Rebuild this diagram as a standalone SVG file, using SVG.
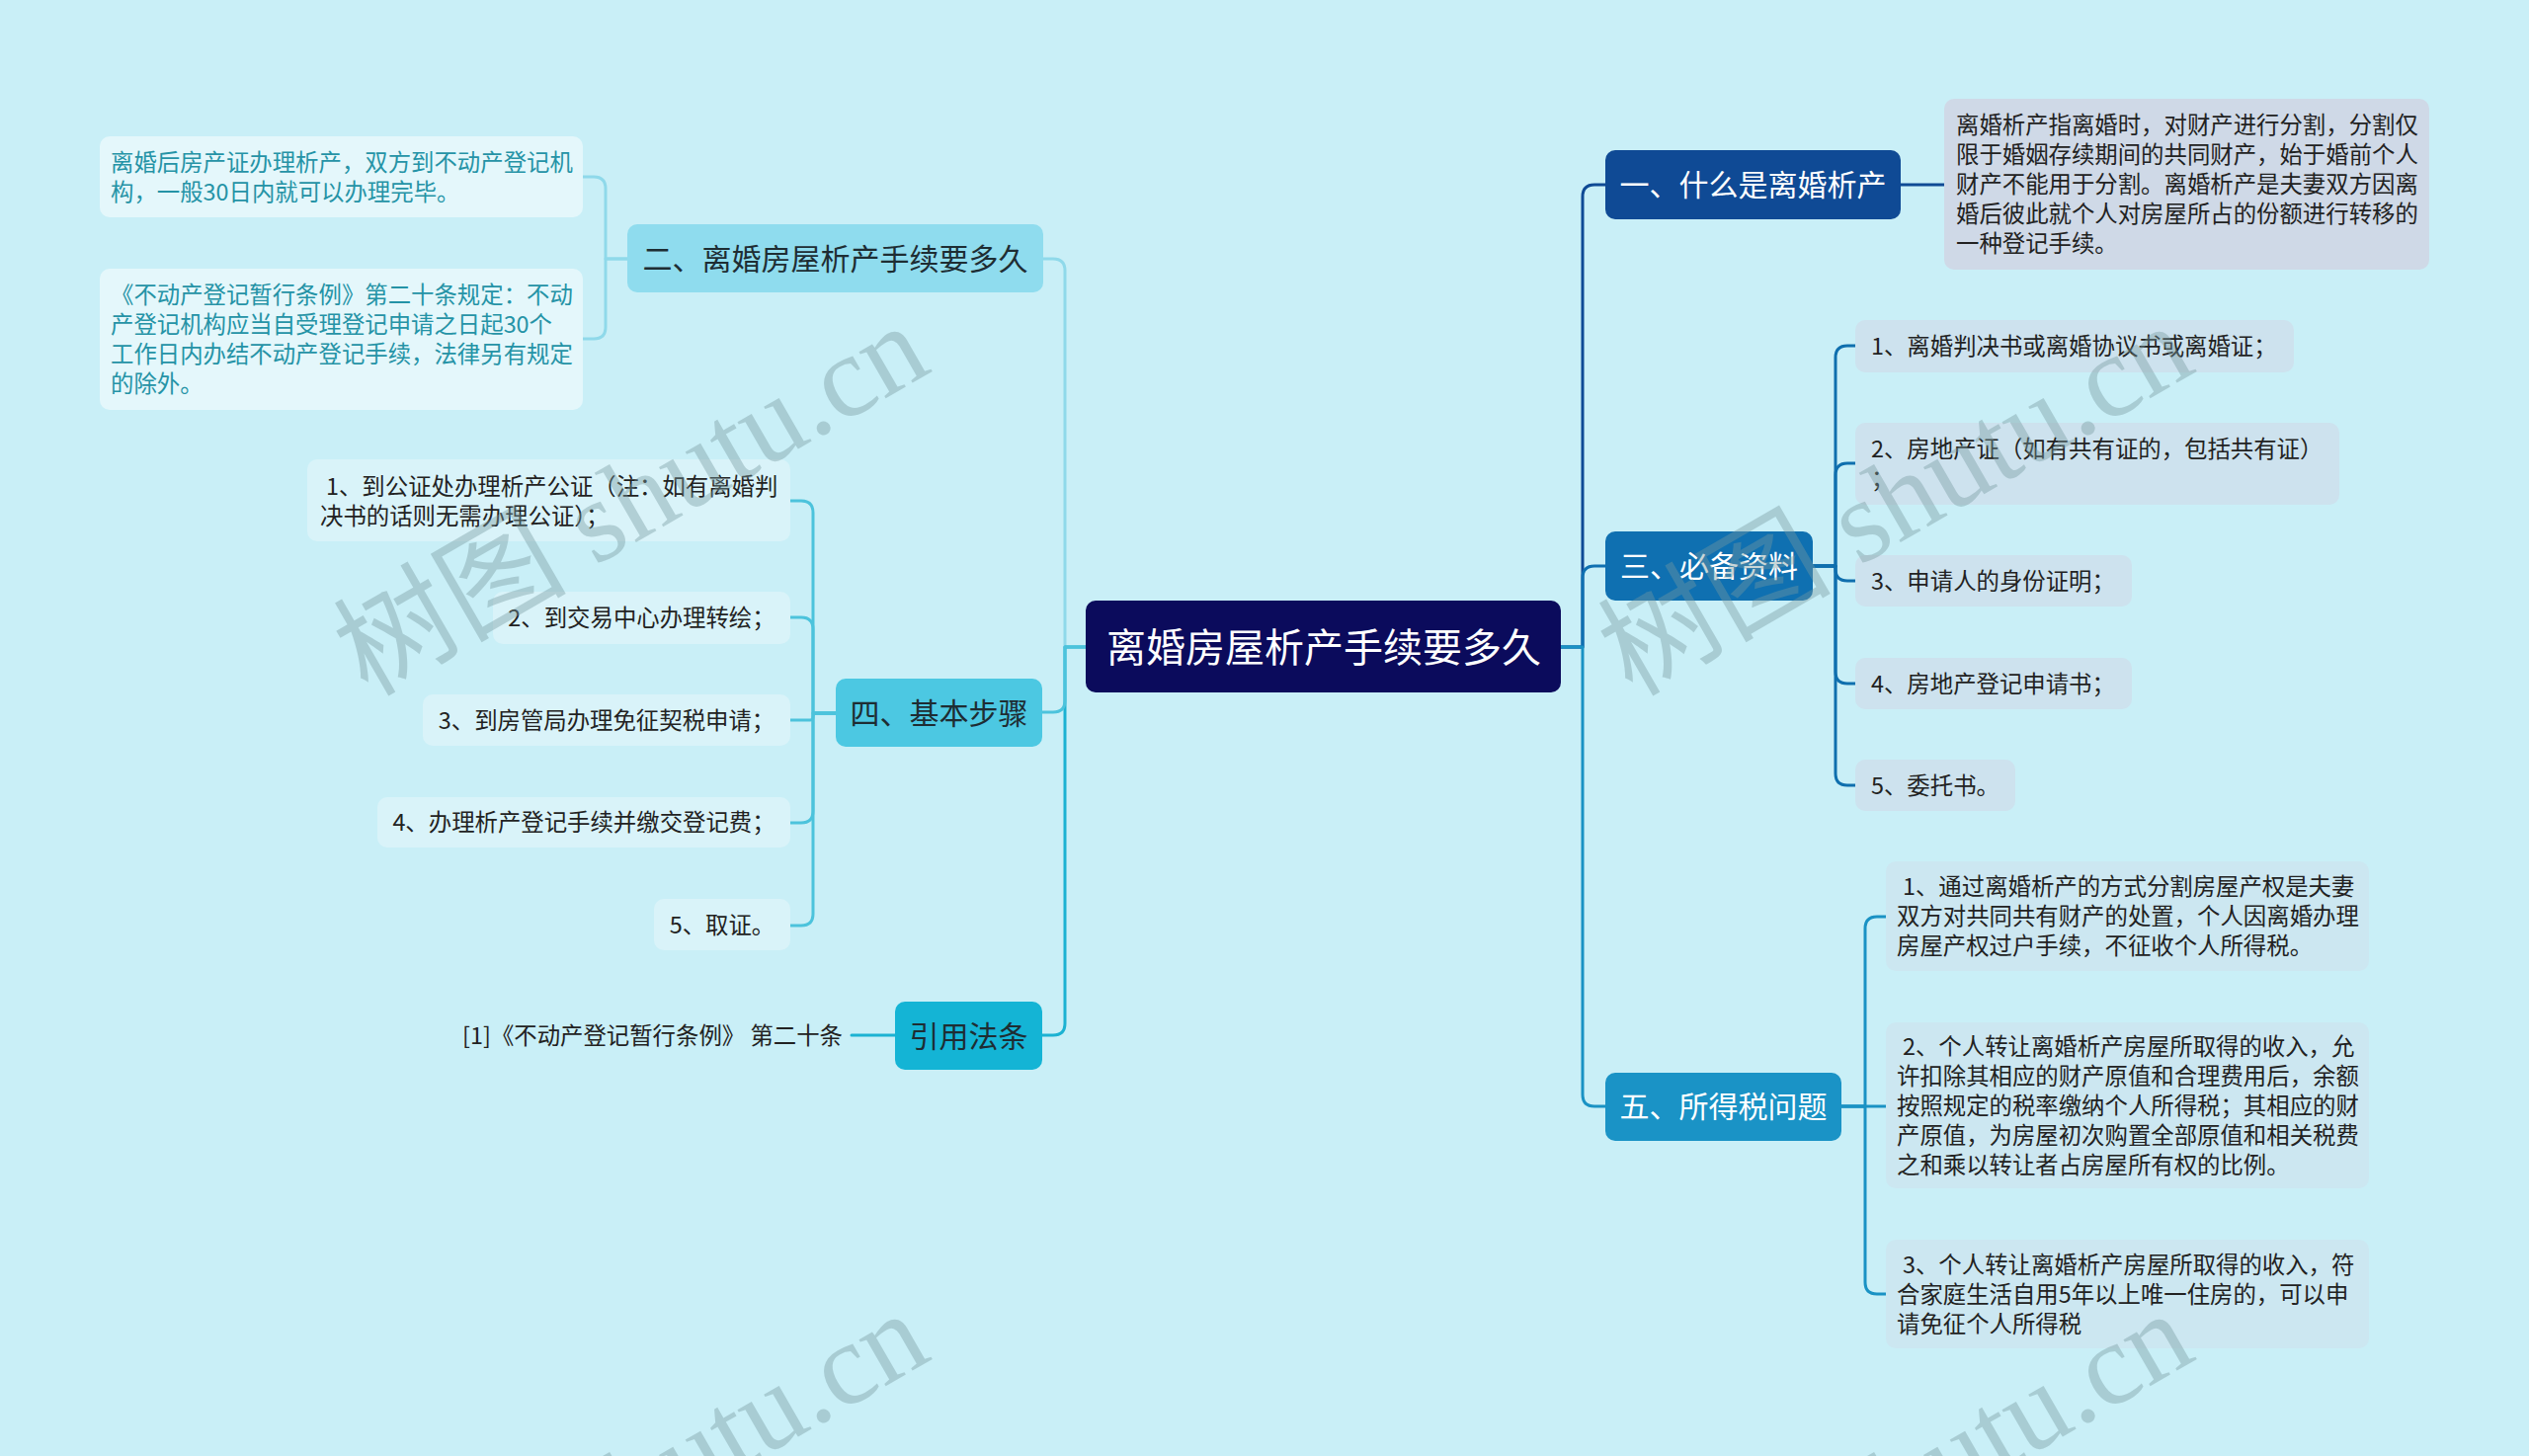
<svg xmlns="http://www.w3.org/2000/svg" width="2560" height="1474" viewBox="0 0 2560 1474">
<style>
.t{font-family:"Noto Sans CJK SC","Noto Sans",sans-serif}
.lf{font-size:23.4px;fill:#222}
.lf2{font-size:23.4px;fill:#2593a6}
.nd{font-size:30px;text-anchor:middle}
.w{fill:#fff}
.d{fill:#1e2d33}
.c{fill:none;stroke-width:3;stroke-linecap:round;stroke-linejoin:round}
.wm{font-family:"Liberation Serif","Noto Sans CJK SC",serif;font-size:118px;fill:#779aa0;opacity:.4}
.mid{text-anchor:middle}
</style>
<rect x="0" y="0" width="2560" height="1474" fill="#c9eff7"/>

<g id="connectors">
  <path class="c" stroke="#0f4a95" d="M1580,655 H1602 V199 Q1602,187 1614,187 H1625"/>
  <path class="c" stroke="#0f70b1" d="M1580,655 H1602 V585 Q1602,573 1614,573 H1625"/>
  <path class="c" stroke="#1a92c4" d="M1580,655 H1602 V1108 Q1602,1120 1614,1120 H1625"/>
  <path class="c" stroke="#8fd9ea" d="M1099,655 H1078 V274 Q1078,262 1066,262 H1056"/>
  <path class="c" stroke="#1cb2d2" d="M1099,655 H1078 V1036 Q1078,1048 1066,1048 H1055"/>
  <path class="c" stroke="#4cc3dc" d="M1099,655 H1078 V709 Q1078,721 1066,721 H1055"/>

  <path class="c" stroke="#0f4a95" d="M1924,187 H1968"/>

  <path class="c" stroke="#0f6fae" d="M1835,573 H1858 V362 Q1858,350 1870,350 H1878"/>
  <path class="c" stroke="#0f6fae" d="M1835,573 H1858 V481 Q1858,469 1870,469 H1878"/>
  <path class="c" stroke="#0f6fae" d="M1835,573 H1858 V576 Q1858,588 1870,588 H1878"/>
  <path class="c" stroke="#0f6fae" d="M1835,573 H1858 V680 Q1858,692 1870,692 H1878"/>
  <path class="c" stroke="#0f6fae" d="M1835,573 H1858 V783 Q1858,795 1870,795 H1878"/>

  <path class="c" stroke="#1a92c4" d="M1864,1120 H1888 V940 Q1888,928 1900,928 H1909"/>
  <path class="c" stroke="#1a92c4" d="M1864,1120 H1909"/>
  <path class="c" stroke="#1a92c4" d="M1864,1120 H1888 V1298 Q1888,1310 1900,1310 H1909"/>

  <path class="c" stroke="#8fd9ea" d="M635,262 H613 V191 Q613,179 601,179 H590"/>
  <path class="c" stroke="#8fd9ea" d="M635,262 H613 V331 Q613,343 601,343 H590"/>

  <path class="c" stroke="#4cc3dc" d="M846,722 H823 V519 Q823,507 811,507 H800"/>
  <path class="c" stroke="#4cc3dc" d="M846,722 H823 V637 Q823,625 811,625 H800"/>
  <path class="c" stroke="#4cc3dc" d="M846,722 H826 Q823,722 823,725 V726 Q823,729 820,729 H800"/>
  <path class="c" stroke="#4cc3dc" d="M846,722 H823 V821 Q823,833 811,833 H800"/>
  <path class="c" stroke="#4cc3dc" d="M846,722 H823 V925 Q823,937 811,937 H800"/>

  <path class="c" stroke="#1cb2d2" d="M906,1048 H862"/>
</g>

<g id="root">
  <rect x="1099" y="608" width="481" height="93" rx="10" fill="#0b0b5c"/>
  <text class="t w mid" x="1340" y="669.5" style="font-size:40px">离婚房屋析产手续要多久</text>
</g>

<g id="n1">
  <rect x="1625" y="152" width="299" height="70" rx="10" fill="#0f4a95"/>
  <text class="t nd w" x="1774.5" y="198">一、什么是离婚析产</text>
</g>
<g id="n1-1">
  <rect x="1968" y="100" width="491" height="173" rx="10" fill="#cfd9e7"/>
  <text class="t lf" x="1980">
    <tspan x="1980" y="134.5">离婚析产指离婚时，对财产进行分割，分割仅</tspan>
    <tspan x="1980" y="164.5">限于婚姻存续期间的共同财产，始于婚前个人</tspan>
    <tspan x="1980" y="194.5">财产不能用于分割。离婚析产是夫妻双方因离</tspan>
    <tspan x="1980" y="224.5">婚后彼此就个人对房屋所占的份额进行转移的</tspan>
    <tspan x="1980" y="254.5">一种登记手续。</tspan>
  </text>
</g>

<g id="n3">
  <rect x="1625" y="538" width="210" height="70" rx="10" fill="#0f70b1"/>
  <text class="t nd w" x="1730" y="584">三、必备资料</text>
</g>
<g id="n3-1">
  <rect x="1878" y="324" width="444" height="53" rx="10" fill="#cde2ee"/>
  <text class="t lf" x="1894" y="359">1、离婚判决书或离婚协议书或离婚证；</text>
</g>
<g id="n3-2">
  <rect x="1878" y="428" width="490" height="83" rx="10" fill="#cde2ee"/>
  <text class="t lf"><tspan x="1894" y="462.5">2、房地产证（如有共有证的，包括共有证）</tspan><tspan x="1894" y="492.5">；</tspan></text>
</g>
<g id="n3-3">
  <rect x="1878" y="562" width="280" height="52" rx="10" fill="#cde2ee"/>
  <text class="t lf" x="1894" y="596.5">3、申请人的身份证明；</text>
</g>
<g id="n3-4">
  <rect x="1878" y="666" width="280" height="52" rx="10" fill="#cde2ee"/>
  <text class="t lf" x="1894" y="700.5">4、房地产登记申请书；</text>
</g>
<g id="n3-5">
  <rect x="1878" y="769" width="162" height="52" rx="10" fill="#cde2ee"/>
  <text class="t lf" x="1894" y="803.5">5、委托书。</text>
</g>

<g id="n5">
  <rect x="1625" y="1086" width="239" height="69" rx="10" fill="#1a93c6"/>
  <text class="t nd w" x="1744.5" y="1131">五、所得税问题</text>
</g>
<g id="n5-1">
  <rect x="1909" y="872" width="489" height="111" rx="10" fill="#cce7f1"/>
  <text class="t lf">
    <tspan x="1926" y="906">1、通过离婚析产的方式分割房屋产权是夫妻</tspan>
    <tspan x="1920" y="936">双方对共同共有财产的处置，个人因离婚办理</tspan>
    <tspan x="1920" y="966">房屋产权过户手续，不征收个人所得税。</tspan>
  </text>
</g>
<g id="n5-2">
  <rect x="1909" y="1035" width="489" height="168" rx="10" fill="#cce7f1"/>
  <text class="t lf">
    <tspan x="1926" y="1067.5">2、个人转让离婚析产房屋所取得的收入，允</tspan>
    <tspan x="1920" y="1097.5">许扣除其相应的财产原值和合理费用后，余额</tspan>
    <tspan x="1920" y="1127.5">按照规定的税率缴纳个人所得税；其相应的财</tspan>
    <tspan x="1920" y="1157.5">产原值，为房屋初次购置全部原值和相关税费</tspan>
    <tspan x="1920" y="1187.5">之和乘以转让者占房屋所有权的比例。</tspan>
  </text>
</g>
<g id="n5-3">
  <rect x="1909" y="1255" width="489" height="110" rx="10" fill="#cce7f1"/>
  <text class="t lf">
    <tspan x="1926" y="1288.5">3、个人转让离婚析产房屋所取得的收入，符</tspan>
    <tspan x="1920" y="1318.5">合家庭生活自用5年以上唯一住房的，可以申</tspan>
    <tspan x="1920" y="1348.5">请免征个人所得税</tspan>
  </text>
</g>

<g id="n2">
  <rect x="635" y="227" width="421" height="69" rx="10" fill="#8fdcee"/>
  <text class="t nd d" x="845.5" y="272.5">二、离婚房屋析产手续要多久</text>
</g>
<g id="n2-1">
  <rect x="101" y="138" width="489" height="82" rx="10" fill="#e4f7fb"/>
  <text class="t lf2">
    <tspan x="112" y="172.5">离婚后房产证办理析产，双方到不动产登记机</tspan>
    <tspan x="112" y="202.5">构，一般30日内就可以办理完毕。</tspan>
  </text>
</g>
<g id="n2-2">
  <rect x="101" y="272" width="489" height="143" rx="10" fill="#e4f7fb"/>
  <text class="t lf2">
    <tspan x="112" y="307">《不动产登记暂行条例》第二十条规定：不动</tspan>
    <tspan x="112" y="337">产登记机构应当自受理登记申请之日起30个</tspan>
    <tspan x="112" y="367">工作日内办结不动产登记手续，法律另有规定</tspan>
    <tspan x="112" y="397">的除外。</tspan>
  </text>
</g>

<g id="n4">
  <rect x="846" y="687" width="209" height="69" rx="10" fill="#4cc8e2"/>
  <text class="t nd d" x="950.5" y="732.5">四、基本步骤</text>
</g>
<g id="n4-1">
  <rect x="311" y="465" width="489" height="83" rx="10" fill="#d9f3f9"/>
  <text class="t lf">
    <tspan x="330" y="500.5">1、到公证处办理析产公证（注：如有离婚判</tspan>
    <tspan x="324" y="530.5">决书的话则无需办理公证）；</tspan>
  </text>
</g>
<g id="n4-2">
  <rect x="499" y="599" width="301" height="53" rx="10" fill="#d9f3f9"/>
  <text class="t lf mid" x="649.5" y="634">2、到交易中心办理转绘；</text>
</g>
<g id="n4-3">
  <rect x="428" y="703" width="372" height="52" rx="10" fill="#d9f3f9"/>
  <text class="t lf mid" x="614" y="737.5">3、到房管局办理免征契税申请；</text>
</g>
<g id="n4-4">
  <rect x="382" y="807" width="418" height="51" rx="10" fill="#d9f3f9"/>
  <text class="t lf mid" x="591" y="841">4、办理析产登记手续并缴交登记费；</text>
</g>
<g id="n4-5">
  <rect x="662" y="910" width="138" height="52" rx="10" fill="#d9f3f9"/>
  <text class="t lf mid" x="731" y="944.5">5、取证。</text>
</g>

<g id="n6">
  <rect x="906" y="1014" width="149" height="69" rx="10" fill="#14b4d5"/>
  <text class="t nd d" x="980.5" y="1059.5">引用法条</text>
</g>
<g id="n6-1">
  <text class="t lf" x="853" y="1057" text-anchor="end">[1]《不动产登记暂行条例》 第二十条</text>
</g>

<g id="watermarks">
  <text class="wm" x="372" y="706" transform="rotate(-30 372 706)">树图 shutu.cn</text>
  <text class="wm" x="1652" y="706" transform="rotate(-30 1652 706)">树图 shutu.cn</text>
  <text class="wm" x="372" y="1706" transform="rotate(-30 372 1706)">树图 shutu.cn</text>
  <text class="wm" x="1652" y="1706" transform="rotate(-30 1652 1706)">树图 shutu.cn</text>
</g>
</svg>
